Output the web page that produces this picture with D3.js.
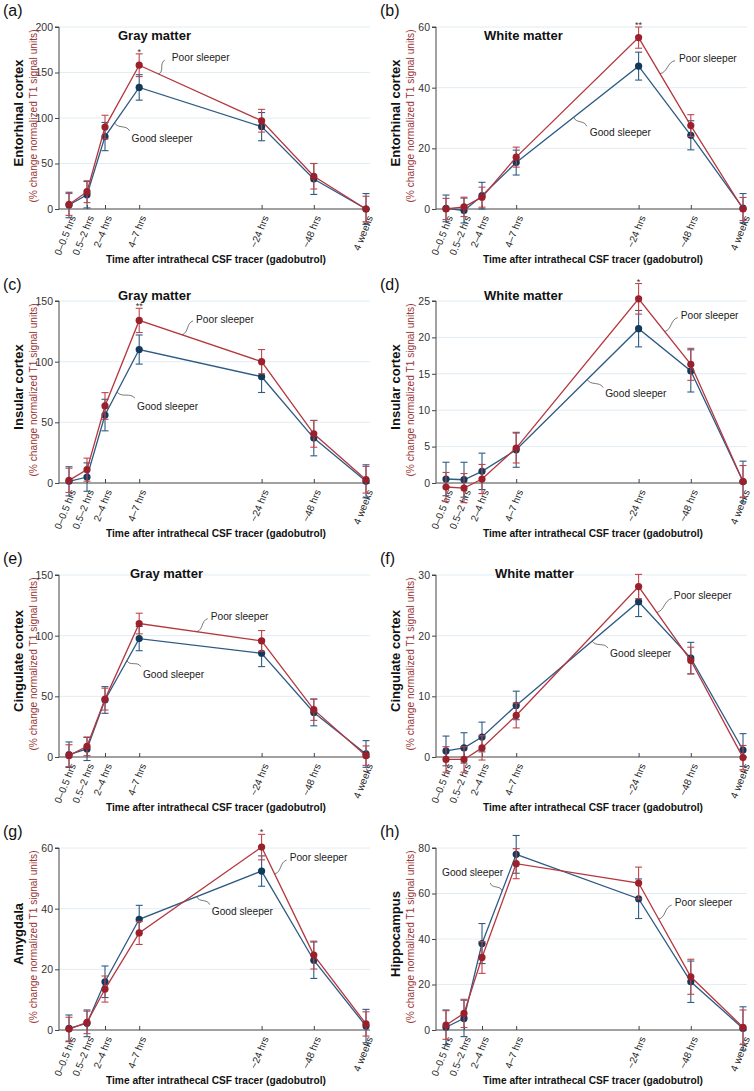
<!DOCTYPE html>
<html><head><meta charset="utf-8">
<script src="https://cdn.jsdelivr.net/npm/d3@7"></script>
<style>
body{margin:0;background:#fff;}
svg{display:block;font-family:"Liberation Sans",Arial,sans-serif;}
</style></head>
<body><svg id="chart" width="754" height="1091"></svg>
<script>
// ---------- DATA ----------
const timeLabels = ["0\u20130.5 hrs","0.5\u20132 hrs","2\u20134 hrs","4\u20137 hrs","~24 hrs","~48 hrs","4 weeks"];
const timePos = [0, 1, 2, 3.9, 10.7, 13.6, 16.5];

const panelLetters = ["(a)","(b)","(c)","(d)","(e)","(f)","(g)","(h)"];
const regions = ["Entorhinal cortex","Entorhinal cortex","Insular cortex","Insular cortex","Cingulate cortex","Cingulate cortex","Amygdala","Hippocampus"];
const tissue = ["Gray matter","White matter","Gray matter","White matter","Gray matter","White matter","",""];
const yMaxes = [200, 60, 150, 25, 150, 30, 60, 80];
const yTickSteps = [50, 20, 50, 5, 50, 10, 20, 20];
const seriesNames = ["Good sleeper","Poor sleeper"];

const goodA = [4.4, 15.7, 79.6, 133.6, 90.5, 33, 0],    goodAErr = [14, 14.5, 15.5, 14, 15.5, 17, 17];
const poorA = [5, 19, 90, 158, 97, 36, 0],              poorAErr = [12, 12, 13, 12.5, 12.5, 14, 14];
const goodB = [0.2, -0.5, 4.4, 15.3, 47.1, 24.3, 0.3],  goodBErr = [4.4, 4.1, 4.4, 4.1, 4.6, 4.8, 4.8];
const poorB = [0, 0.7, 3.9, 17.1, 56.5, 27.5, 0],       poorBErr = [3.5, 3.2, 3.3, 3.3, 3.5, 3.6, 3.8];
const goodC = [1.4, 4.9, 56, 110, 87.6, 37, 1.4],       goodCErr = [12, 11.7, 13, 12, 13, 14.6, 13.6];
const poorC = [2.2, 11, 63.5, 134, 100, 40.5, 2.7],     poorCErr = [10, 9.5, 11, 10, 10, 11, 11];
const goodD = [0.55, 0.45, 1.6, 4.56, 21.2, 15.4, 0.2], goodDErr = [2.3, 2.4, 2.5, 2.4, 2.5, 2.9, 2.8];
const poorD = [-0.55, -0.7, 0.55, 4.8, 25.3, 16.3, 0.2],poorDErr = [2.0, 2.0, 2.0, 2.05, 2.1, 2.2, 2.2];
const goodE = [1.9, 6.6, 47, 97.6, 85.5, 36.7, 2.5],    goodEErr = [10.5, 9.5, 11, 10, 11, 11, 11];
const poorE = [1.1, 8.8, 47.7, 110, 95.7, 39, 1.1],     poorEErr = [9, 7.7, 9, 8.5, 8.5, 8.8, 8];
const goodF = [1.0, 1.5, 3.3, 8.5, 25.6, 16.3, 1.15],   goodFErr = [2.45, 2.5, 2.45, 2.35, 2.45, 2.6, 2.7];
const poorF = [-0.4, -0.4, 1.5, 6.85, 28.1, 15.9, -0.1],poorFErr = [2.1, 2.1, 2.0, 2.05, 2.0, 2.2, 2.0];
const goodG = [0.55, 2.2, 15.9, 36.5, 52.4, 23, 1.3],   goodGErr = [4.4, 4.4, 5.2, 4.6, 5, 6, 5.5];
const poorG = [0.3, 2.5, 13.5, 32, 60.3, 24.7, 2],      poorGErr = [3.9, 3.7, 4.3, 3.8, 4.2, 4.6, 4];
const goodH = [1.2, 5.1, 38, 77.2, 57.7, 21.2, 0.7],    goodHErr = [7.6, 8, 8.8, 8.3, 8.7, 9.1, 9.5];
const poorH = [2.2, 7.3, 31.9, 73.1, 64.6, 23.4, 1.2],  poorHErr = [6.3, 6.2, 7, 6.6, 7, 7.7, 7.6];

// significance marks: [panel index, time index, label]
const significance = [[0,3,"*"],[1,4,"**"],[2,3,"**"],[3,4,"*"],[6,4,"*"]];

// ---------- LAYOUT / STYLE ----------
const colX = [0, 377], rowY = [0, 274, 548, 821];
const axisLeft = 59, xStart = 69, xEnd = 366, axisRight = 370, yTop = 27, yBot = 209;
const C = {
  good: {line:"#2d5b84", mark:"#143a5b", err:"#2d5b84"},
  poor: {line:"#b5373e", mark:"#9c1f2c", err:"#c0454b"}
};
const titlePos = [[118,40],[107,40],[118,26],[107,26],[130,30],[118,30]];
// annotation: series, segment start index, fraction, connector end offset, text offset, anchor
const annots = [
  [{s:"poor",i:3,t:0.16,q:[6,-14],tx:[13,-13],a:"start"},{s:"good",i:2,t:0.28,q:[15,8],tx:[17,19],a:"start"}],
  [{s:"poor",i:4,t:0.41,q:[15,-13],tx:[19,-12],a:"start"},{s:"good",i:3,t:0.47,q:[13,9],tx:[16,19],a:"start"}],
  [{s:"poor",i:3,t:0.35,q:[11,-14],tx:[14,-12],a:"start"},{s:"good",i:2,t:0.35,q:[18,6],tx:[20,18],a:"start"}],
  [{s:"poor",i:4,t:0.5,q:[13,-14],tx:[16,-13],a:"start"},{s:"good",i:3,t:0.58,q:[16,8],tx:[18,17],a:"start"}],
  [{s:"poor",i:3,t:0.47,q:[11,-13],tx:[14,-12],a:"start"},{s:"good",i:2,t:0.64,q:[14,6],tx:[16,17],a:"start"}],
  [{s:"poor",i:4,t:0.35,q:[15,-14],tx:[17,-13],a:"start"},{s:"good",i:3,t:0.62,q:[16,7],tx:[18,16],a:"start"}],
  [{s:"poor",i:4,t:0.25,q:[12,-14],tx:[15,-13],a:"start"},{s:"good",i:3,t:0.47,q:[13,8],tx:[15,18],a:"start"}],
  [{s:"poor",i:4,t:0.385,q:[13,-14],tx:[16,-13],a:"start"},{s:"good",i:2,t:0.59,q:[-12,-8],tx:[1,-15],a:"end"}]
];

const goods = [[goodA,goodAErr],[goodB,goodBErr],[goodC,goodCErr],[goodD,goodDErr],[goodE,goodEErr],[goodF,goodFErr],[goodG,goodGErr],[goodH,goodHErr]];
const poors = [[poorA,poorAErr],[poorB,poorBErr],[poorC,poorCErr],[poorD,poorDErr],[poorE,poorEErr],[poorF,poorFErr],[poorG,poorGErr],[poorH,poorHErr]];

const svg = d3.select("#chart");

panelLetters.forEach((letter, p) => {
  const ox = colX[p % 2], oy = rowY[Math.floor(p / 2)];
  const g = svg.append("g").attr("transform", `translate(${ox},${oy})`);
  const x = d3.scaleLinear().domain([timePos[0], timePos[timePos.length-1]]).range([xStart, xEnd]);
  const y = d3.scaleLinear().domain([0, yMaxes[p]]).range([yBot, yTop]);
  const ticks = d3.range(0, yMaxes[p] + 1e-9, yTickSteps[p]);

  // gridlines
  g.append("g").selectAll("line").data(ticks.filter(t => t > 0)).join("line")
    .attr("x1", axisLeft).attr("x2", axisRight)
    .attr("y1", d => y(d)).attr("y2", d => y(d))
    .attr("stroke", "#e2ecf3").attr("stroke-width", 1);

  // y axis
  const ya = g.append("g").attr("transform", `translate(${axisLeft},0)`)
    .call(d3.axisLeft(y).tickValues(ticks).tickSize(4).tickPadding(2).tickFormat(d3.format("d")));
  ya.select(".domain").attr("stroke", "#444").attr("d", `M-4,${yTop}H0V${yBot}`);
  ya.selectAll(".tick line").attr("stroke", "#444");
  ya.selectAll(".tick text").attr("font-size", 10.5).attr("fill", "#333").attr("font-family", "Liberation Sans, Arial, sans-serif");

  // x axis
  const xa = g.append("g").attr("transform", `translate(0,${yBot})`)
    .call(d3.axisBottom(x).tickValues(timePos).tickSize(-4).tickFormat(""));
  xa.select(".domain").attr("stroke", "#444").attr("stroke-width", 1.2).attr("d", `M${axisLeft},0H${axisRight}`);
  xa.selectAll(".tick line").attr("stroke", "#444");
  g.append("g").selectAll("text").data(timeLabels).join("text")
    .attr("transform", (d, i) => `translate(${x(timePos[i]) + 4},${yBot + 7}) rotate(-68)`)
    .attr("text-anchor", "end").attr("dy", "0.35em")
    .attr("font-size", 10).attr("fill", "#222").text(d => d);

  // axis titles
  g.append("text").attr("x", 216).attr("y", 263).attr("text-anchor", "middle")
    .attr("font-size", 10.2).attr("font-weight", "bold").attr("fill", "#111")
    .text("Time after intrathecal CSF tracer (gadobutrol)");
  g.append("text").attr("transform", `translate(23,${(yTop + yBot) / 2 - 5}) rotate(-90)`)
    .attr("text-anchor", "middle").attr("font-size", 13).attr("font-weight", "bold").attr("fill", "#111")
    .text(regions[p]);
  g.append("text").attr("transform", `translate(37,${(yTop + yBot) / 2 - 2}) rotate(-90)`)
    .attr("text-anchor", "middle").attr("font-size", 10.2).attr("fill", "#9a3535")
    .text("(% change normalized T1 signal units)");

  // panel letter & title
  g.append("text").attr("x", 3).attr("y", 16).attr("font-size", 16).attr("fill", "#111").text(letter);
  if (tissue[p]) g.append("text").attr("x", titlePos[p][0]).attr("y", titlePos[p][1])
    .attr("font-size", 13).attr("font-weight", "bold").attr("fill", "#111").text(tissue[p]);

  // series
  const series = {good: goods[p], poor: poors[p]};
  ["good", "poor"].forEach(key => {
    const [vals, errs] = series[key];
    const col = C[key];
    const pts = vals.map((v, i) => ({x: timePos[i], v, e: errs[i]}));
    g.append("path").datum(pts)
      .attr("d", d3.line().x(d => x(d.x)).y(d => y(d.v)))
      .attr("fill", "none").attr("stroke", col.line).attr("stroke-width", 1.3);
    const eb = g.append("g").attr("stroke", col.err).attr("stroke-width", 1.1);
    eb.selectAll("line.v").data(pts).join("line").attr("class", "v")
      .attr("x1", d => x(d.x)).attr("x2", d => x(d.x))
      .attr("y1", d => y(d.v - d.e)).attr("y2", d => y(d.v + d.e));
    eb.selectAll("line.t").data(pts).join("line").attr("class", "t")
      .attr("x1", d => x(d.x) - 3.5).attr("x2", d => x(d.x) + 3.5)
      .attr("y1", d => y(d.v + d.e)).attr("y2", d => y(d.v + d.e));
    eb.selectAll("line.b").data(pts).join("line").attr("class", "b")
      .attr("x1", d => x(d.x) - 3.5).attr("x2", d => x(d.x) + 3.5)
      .attr("y1", d => y(d.v - d.e)).attr("y2", d => y(d.v - d.e));
    g.append("g").selectAll("circle").data(pts).join("circle")
      .attr("cx", d => x(d.x)).attr("cy", d => y(d.v)).attr("r", 3.6)
      .attr("fill", col.mark);
  });

  // significance
  significance.filter(s => s[0] === p).forEach(([pp, i, lab]) => {
    const [vals, errs] = poors[p];
    g.append("text").attr("x", x(timePos[i])).attr("y", y(vals[i] + errs[i]) + 1)
      .attr("text-anchor", "middle").attr("font-size", 9).attr("fill", "#333").text(lab);
  });

  // annotations with wavy connectors
  annots[p].forEach(a => {
    const vals = series[a.s][0];
    const px = x(timePos[a.i]) + a.t * (x(timePos[a.i + 1]) - x(timePos[a.i]));
    const py = y(vals[a.i]) + a.t * (y(vals[a.i + 1]) - y(vals[a.i]));
    const qx = px + a.q[0], qy = py + a.q[1];
    const dx = qx - px, dy = qy - py, L = Math.hypot(dx, dy);
    const nx = -dy / L * 4, ny = dx / L * 4;
    const path = d3.path();
    path.moveTo(px, py);
    path.bezierCurveTo(px + dx * 0.35 + nx, py + dy * 0.35 + ny, px + dx * 0.65 - nx, py + dy * 0.65 - ny, qx, qy);
    g.append("path").attr("d", path.toString()).attr("fill", "none")
      .attr("stroke", "#555").attr("stroke-width", 0.8);
    g.append("text").attr("x", px + a.tx[0]).attr("y", py + a.tx[1]).attr("text-anchor", a.a)
      .attr("font-size", 10.2).attr("fill", "#222").text(seriesNames[a.s === "good" ? 0 : 1]);
  });
});
</script></body></html>
